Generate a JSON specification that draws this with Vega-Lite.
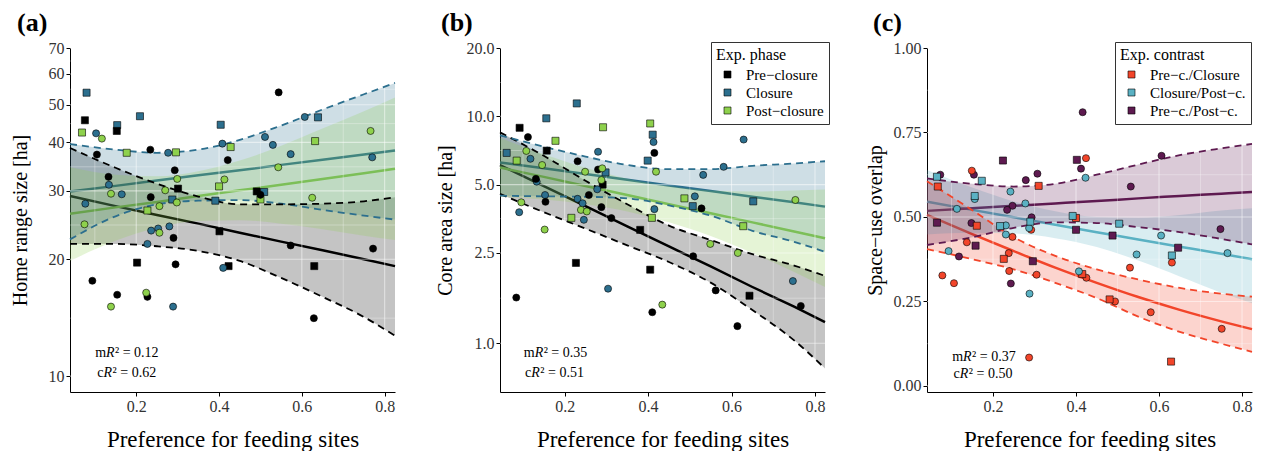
{
"$schema":"https://vega.github.io/schema/vega-lite/v6.json",
"padding":{"left":10,"top":10,"right":5,"bottom":0},
"spacing":35,
"config":{
 "font":"Liberation Serif",
 "view":{"stroke":null},
 "axis":{"domainColor":"#000","domainWidth":1,"tickColor":"#000","tickSize":4,"tickWidth":1,"labelFontSize":16,"labelColor":"#333","labelPadding":2,"titleFontWeight":"normal","titleColor":"#000","grid":false},
 "axisX":{"titlePadding":14,"titleFontSize":23},
 "axisY":{"titleFontSize":20,"minExtent":36,"maxExtent":36},
 "title":{"font":"Liberation Serif","fontSize":26,"fontWeight":"bold","anchor":"start","color":"#000","baseline":"alphabetic","offset":4},
 "legend":{"orient":"none","symbolType":"square","symbolSize":49,"symbolStrokeColor":"#000","symbolStrokeWidth":0.6,"strokeColor":"#333","fillColor":"#fff","padding":5,"titleFontSize":16,"titleFontWeight":"normal","titleColor":"#000","labelFontSize":15,"labelColor":"#000","rowPadding":2,"titlePadding":4,"labelOffset":11,"symbolOffset":4}
},
"datasets":{
"gx":[{"v":0.1,"k":"min"},{"v":0.2,"k":"maj"},{"v":0.3,"k":"min"},{"v":0.4,"k":"maj"},{"v":0.5,"k":"min"},{"v":0.6,"k":"maj"},{"v":0.7,"k":"min"},{"v":0.8,"k":"maj"}],
"gya":[{"v":10,"k":"maj"},{"v":14.1,"k":"min"},{"v":20,"k":"maj"},{"v":24.5,"k":"min"},{"v":30,"k":"maj"},{"v":34.6,"k":"min"},{"v":40,"k":"maj"},{"v":44.7,"k":"min"},{"v":50,"k":"maj"},{"v":54.8,"k":"min"},{"v":60,"k":"maj"},{"v":64.8,"k":"min"},{"v":70,"k":"maj"}],
"gyb":[{"v":1,"k":"maj"},{"v":1.58,"k":"min"},{"v":2.5,"k":"maj"},{"v":3.54,"k":"min"},{"v":5,"k":"maj"},{"v":7.07,"k":"min"},{"v":10,"k":"maj"},{"v":14.1,"k":"min"},{"v":20,"k":"maj"}],
"gyc":[{"v":0,"k":"maj"},{"v":0.125,"k":"min"},{"v":0.25,"k":"maj"},{"v":0.375,"k":"min"},{"v":0.5,"k":"maj"},{"v":0.625,"k":"min"},{"v":0.75,"k":"maj"},{"v":0.875,"k":"min"},{"v":1,"k":"maj"}],
"pa":[
{"x":0.080,"y":53.7,"g":"Closure","s":"square"},{"x":0.154,"y":44.3,"g":"Closure","s":"square"},{"x":0.209,"y":46.7,"g":"Closure","s":"square"},{"x":0.404,"y":44.4,"g":"Closure","s":"square"},{"x":0.287,"y":28.5,"g":"Closure","s":"square"},{"x":0.509,"y":29.8,"g":"Closure","s":"square"},{"x":0.391,"y":28.3,"g":"Closure","s":"square"},{"x":0.639,"y":46.4,"g":"Closure","s":"square"},
{"x":0.076,"y":45.6,"g":"Pre−closure","s":"square"},{"x":0.153,"y":42.8,"g":"Pre−closure","s":"square"},{"x":0.301,"y":30.4,"g":"Pre−closure","s":"square"},{"x":0.202,"y":19.6,"g":"Pre−closure","s":"square"},{"x":0.401,"y":23.6,"g":"Pre−closure","s":"square"},{"x":0.423,"y":19.2,"g":"Pre−closure","s":"square"},{"x":0.491,"y":29.9,"g":"Pre−closure","s":"square"},{"x":0.630,"y":19.2,"g":"Pre−closure","s":"square"},
{"x":0.069,"y":42.4,"g":"Post−closure","s":"square"},{"x":0.177,"y":37.6,"g":"Post−closure","s":"square"},{"x":0.296,"y":37.7,"g":"Post−closure","s":"square"},{"x":0.428,"y":38.9,"g":"Post−closure","s":"square"},{"x":0.227,"y":26.7,"g":"Post−closure","s":"square"},{"x":0.400,"y":30.8,"g":"Post−closure","s":"square"},{"x":0.500,"y":28.5,"g":"Post−closure","s":"square"},{"x":0.632,"y":40.3,"g":"Post−closure","s":"square"},
{"x":0.103,"y":42.2,"g":"Closure","s":"circle"},{"x":0.277,"y":37.6,"g":"Closure","s":"circle"},{"x":0.408,"y":39.7,"g":"Closure","s":"circle"},{"x":0.134,"y":31.1,"g":"Closure","s":"circle"},{"x":0.165,"y":29.4,"g":"Closure","s":"circle"},{"x":0.077,"y":27.8,"g":"Closure","s":"circle"},{"x":0.236,"y":23.7,"g":"Closure","s":"circle"},{"x":0.253,"y":24.0,"g":"Closure","s":"circle"},{"x":0.280,"y":24.3,"g":"Closure","s":"circle"},{"x":0.227,"y":21.9,"g":"Closure","s":"circle"},{"x":0.289,"y":15.1,"g":"Closure","s":"circle"},{"x":0.410,"y":19.0,"g":"Closure","s":"circle"},{"x":0.607,"y":46.5,"g":"Closure","s":"circle"},{"x":0.511,"y":41.3,"g":"Closure","s":"circle"},{"x":0.530,"y":39.4,"g":"Closure","s":"circle"},{"x":0.573,"y":37.3,"g":"Closure","s":"circle"},{"x":0.770,"y":36.6,"g":"Closure","s":"circle"},
{"x":0.234,"y":38.3,"g":"Pre−closure","s":"circle"},{"x":0.105,"y":37.2,"g":"Pre−closure","s":"circle"},{"x":0.421,"y":36.0,"g":"Pre−closure","s":"circle"},{"x":0.133,"y":32.6,"g":"Pre−closure","s":"circle"},{"x":0.293,"y":33.9,"g":"Pre−closure","s":"circle"},{"x":0.235,"y":28.9,"g":"Pre−closure","s":"circle"},{"x":0.290,"y":22.7,"g":"Pre−closure","s":"circle"},{"x":0.295,"y":19.4,"g":"Pre−closure","s":"circle"},{"x":0.094,"y":17.6,"g":"Pre−closure","s":"circle"},{"x":0.154,"y":16.2,"g":"Pre−closure","s":"circle"},{"x":0.227,"y":16.0,"g":"Pre−closure","s":"circle"},{"x":0.544,"y":53.8,"g":"Pre−closure","s":"circle"},{"x":0.573,"y":21.7,"g":"Pre−closure","s":"circle"},{"x":0.772,"y":21.3,"g":"Pre−closure","s":"circle"},{"x":0.629,"y":14.1,"g":"Pre−closure","s":"circle"},{"x":0.500,"y":29.3,"g":"Pre−closure","s":"circle"},
{"x":0.117,"y":40.9,"g":"Post−closure","s":"circle"},{"x":0.139,"y":29.5,"g":"Post−closure","s":"circle"},{"x":0.075,"y":24.6,"g":"Post−closure","s":"circle"},{"x":0.299,"y":32.2,"g":"Post−closure","s":"circle"},{"x":0.270,"y":30.1,"g":"Post−closure","s":"circle"},{"x":0.298,"y":28.0,"g":"Post−closure","s":"circle"},{"x":0.256,"y":27.4,"g":"Post−closure","s":"circle"},{"x":0.256,"y":23.4,"g":"Post−closure","s":"circle"},{"x":0.224,"y":16.4,"g":"Post−closure","s":"circle"},{"x":0.139,"y":15.1,"g":"Post−closure","s":"circle"},{"x":0.413,"y":32.1,"g":"Post−closure","s":"circle"},{"x":0.766,"y":42.8,"g":"Post−closure","s":"circle"},{"x":0.543,"y":34.5,"g":"Post−closure","s":"circle"},{"x":0.625,"y":28.8,"g":"Post−closure","s":"circle"}
],
"ba":[
{"x":0.04,"g":"Pre−closure","fit":29.1,"lo":21.9,"hi":38.7},{"x":0.15,"g":"Pre−closure","fit":27.4,"lo":21.9,"hi":34.4},{"x":0.25,"g":"Pre−closure","fit":26.0,"lo":21.6,"hi":31.3},{"x":0.35,"g":"Pre−closure","fit":24.7,"lo":21.0,"hi":29.0},{"x":0.45,"g":"Pre−closure","fit":23.4,"lo":19.8,"hi":27.7},{"x":0.55,"g":"Pre−closure","fit":22.2,"lo":17.9,"hi":27.7},{"x":0.65,"g":"Pre−closure","fit":21.1,"lo":16.0,"hi":27.8},{"x":0.75,"g":"Pre−closure","fit":20.0,"lo":14.2,"hi":28.2},{"x":0.825,"g":"Pre−closure","fit":19.2,"lo":12.7,"hi":28.9},
{"x":0.04,"g":"Closure","fit":29.9,"lo":22.5,"hi":39.6},{"x":0.15,"g":"Closure","fit":30.9,"lo":25.8,"hi":38.3},{"x":0.25,"g":"Closure","fit":31.9,"lo":27.7,"hi":37.6},{"x":0.35,"g":"Closure","fit":32.9,"lo":28.3,"hi":38.3},{"x":0.45,"g":"Closure","fit":33.9,"lo":28.4,"hi":40.6},{"x":0.55,"g":"Closure","fit":35.0,"lo":27.8,"hi":44.2},{"x":0.65,"g":"Closure","fit":36.1,"lo":26.8,"hi":48.6},{"x":0.75,"g":"Closure","fit":37.2,"lo":25.9,"hi":53.2},{"x":0.825,"g":"Closure","fit":38.1,"lo":25.3,"hi":56.9},
{"x":0.04,"g":"Post−closure","fit":26.2,"lo":19.8,"hi":34.5},{"x":0.15,"g":"Post−closure","fit":27.2,"lo":22.3,"hi":33.0},{"x":0.25,"g":"Post−closure","fit":28.1,"lo":24.1,"hi":32.7},{"x":0.35,"g":"Post−closure","fit":29.1,"lo":25.1,"hi":33.7},{"x":0.45,"g":"Post−closure","fit":30.1,"lo":25.2,"hi":35.9},{"x":0.55,"g":"Post−closure","fit":31.1,"lo":24.7,"hi":39.2},{"x":0.65,"g":"Post−closure","fit":32.2,"lo":23.9,"hi":43.4},{"x":0.75,"g":"Post−closure","fit":33.3,"lo":23.0,"hi":48.1},{"x":0.825,"g":"Post−closure","fit":34.2,"lo":22.4,"hi":52.2}
],
"pb":[
{"x":0.229,"y":11.4,"g":"Closure","s":"square"},{"x":0.156,"y":9.8,"g":"Closure","s":"square"},{"x":0.411,"y":8.3,"g":"Closure","s":"square"},{"x":0.061,"y":6.9,"g":"Closure","s":"square"},{"x":0.298,"y":5.66,"g":"Closure","s":"square"},{"x":0.507,"y":4.02,"g":"Closure","s":"square"},{"x":0.652,"y":4.22,"g":"Closure","s":"square"},{"x":0.399,"y":6.38,"g":"Closure","s":"square"},
{"x":0.092,"y":8.9,"g":"Pre−closure","s":"square"},{"x":0.157,"y":7.06,"g":"Pre−closure","s":"square"},{"x":0.291,"y":5.0,"g":"Pre−closure","s":"square"},{"x":0.381,"y":3.16,"g":"Pre−closure","s":"square"},{"x":0.227,"y":2.26,"g":"Pre−closure","s":"square"},{"x":0.405,"y":2.11,"g":"Pre−closure","s":"square"},{"x":0.643,"y":1.62,"g":"Pre−closure","s":"square"},
{"x":0.405,"y":9.3,"g":"Post−closure","s":"square"},{"x":0.292,"y":8.95,"g":"Post−closure","s":"square"},{"x":0.178,"y":7.8,"g":"Post−closure","s":"square"},{"x":0.085,"y":6.38,"g":"Post−closure","s":"square"},{"x":0.216,"y":3.57,"g":"Post−closure","s":"square"},{"x":0.409,"y":3.57,"g":"Post−closure","s":"square"},{"x":0.487,"y":4.35,"g":"Post−closure","s":"square"},{"x":0.628,"y":3.28,"g":"Post−closure","s":"square"},
{"x":0.413,"y":7.7,"g":"Closure","s":"circle"},{"x":0.118,"y":6.5,"g":"Closure","s":"circle"},{"x":0.280,"y":6.98,"g":"Closure","s":"circle"},{"x":0.133,"y":5.15,"g":"Closure","s":"circle"},{"x":0.278,"y":4.77,"g":"Closure","s":"circle"},{"x":0.153,"y":4.5,"g":"Closure","s":"circle"},{"x":0.231,"y":4.33,"g":"Closure","s":"circle"},{"x":0.243,"y":4.14,"g":"Closure","s":"circle"},{"x":0.091,"y":3.78,"g":"Closure","s":"circle"},{"x":0.246,"y":3.5,"g":"Closure","s":"circle"},{"x":0.415,"y":3.9,"g":"Closure","s":"circle"},{"x":0.304,"y":1.74,"g":"Closure","s":"circle"},{"x":0.629,"y":7.9,"g":"Closure","s":"circle"},{"x":0.581,"y":5.99,"g":"Closure","s":"circle"},{"x":0.532,"y":5.52,"g":"Closure","s":"circle"},{"x":0.512,"y":4.44,"g":"Closure","s":"circle"},{"x":0.747,"y":1.88,"g":"Closure","s":"circle"},
{"x":0.112,"y":8.1,"g":"Pre−closure","s":"circle"},{"x":0.415,"y":6.9,"g":"Pre−closure","s":"circle"},{"x":0.231,"y":6.34,"g":"Pre−closure","s":"circle"},{"x":0.280,"y":5.83,"g":"Pre−closure","s":"circle"},{"x":0.131,"y":5.3,"g":"Pre−closure","s":"circle"},{"x":0.258,"y":4.5,"g":"Pre−closure","s":"circle"},{"x":0.154,"y":4.2,"g":"Pre−closure","s":"circle"},{"x":0.288,"y":3.98,"g":"Pre−closure","s":"circle"},{"x":0.312,"y":3.56,"g":"Pre−closure","s":"circle"},{"x":0.084,"y":1.59,"g":"Pre−closure","s":"circle"},{"x":0.410,"y":1.37,"g":"Pre−closure","s":"circle"},{"x":0.528,"y":3.93,"g":"Pre−closure","s":"circle"},{"x":0.508,"y":2.42,"g":"Pre−closure","s":"circle"},{"x":0.562,"y":1.71,"g":"Pre−closure","s":"circle"},{"x":0.766,"y":1.46,"g":"Pre−closure","s":"circle"},{"x":0.614,"y":1.19,"g":"Pre−closure","s":"circle"},
{"x":0.108,"y":7.04,"g":"Post−closure","s":"circle"},{"x":0.146,"y":6.1,"g":"Post−closure","s":"circle"},{"x":0.290,"y":5.9,"g":"Post−closure","s":"circle"},{"x":0.249,"y":5.7,"g":"Post−closure","s":"circle"},{"x":0.288,"y":5.24,"g":"Post−closure","s":"circle"},{"x":0.096,"y":4.18,"g":"Post−closure","s":"circle"},{"x":0.239,"y":3.87,"g":"Post−closure","s":"circle"},{"x":0.253,"y":3.81,"g":"Post−closure","s":"circle"},{"x":0.152,"y":3.17,"g":"Post−closure","s":"circle"},{"x":0.434,"y":1.48,"g":"Post−closure","s":"circle"},{"x":0.419,"y":5.7,"g":"Post−closure","s":"circle"},{"x":0.753,"y":4.28,"g":"Post−closure","s":"circle"},{"x":0.549,"y":2.74,"g":"Post−closure","s":"circle"},{"x":0.615,"y":2.5,"g":"Post−closure","s":"circle"}
],
"bb":[
{"x":0.045,"g":"Pre−closure","fit":6.1,"lo":4.55,"hi":8.5},{"x":0.15,"g":"Pre−closure","fit":4.93,"lo":3.78,"hi":6.7},{"x":0.25,"g":"Pre−closure","fit":4.02,"lo":3.2,"hi":5.2},{"x":0.35,"g":"Pre−closure","fit":3.27,"lo":2.7,"hi":4.1},{"x":0.45,"g":"Pre−closure","fit":2.67,"lo":2.28,"hi":3.3},{"x":0.55,"g":"Pre−closure","fit":2.18,"lo":1.85,"hi":2.85},{"x":0.65,"g":"Pre−closure","fit":1.77,"lo":1.4,"hi":2.47},{"x":0.75,"g":"Pre−closure","fit":1.45,"lo":1.03,"hi":2.2},{"x":0.824,"g":"Pre−closure","fit":1.24,"lo":0.775,"hi":1.98},
{"x":0.045,"g":"Closure","fit":6.26,"lo":4.47,"hi":8.25},{"x":0.15,"g":"Closure","fit":5.9,"lo":4.44,"hi":7.35},{"x":0.25,"g":"Closure","fit":5.57,"lo":4.42,"hi":6.65},{"x":0.35,"g":"Closure","fit":5.26,"lo":4.35,"hi":6.1},{"x":0.45,"g":"Closure","fit":4.96,"lo":4.05,"hi":5.85},{"x":0.55,"g":"Closure","fit":4.69,"lo":3.65,"hi":5.85},{"x":0.65,"g":"Closure","fit":4.42,"lo":3.13,"hi":6.05},{"x":0.75,"g":"Closure","fit":4.18,"lo":2.8,"hi":6.2},{"x":0.824,"g":"Closure","fit":4.0,"lo":2.53,"hi":6.34},
{"x":0.045,"g":"Post−closure","fit":5.95,"lo":4.42,"hi":8.04},{"x":0.15,"g":"Post−closure","fit":5.41,"lo":4.3,"hi":6.81},{"x":0.25,"g":"Post−closure","fit":4.93,"lo":4.1,"hi":5.93},{"x":0.35,"g":"Post−closure","fit":4.5,"lo":3.81,"hi":5.31},{"x":0.45,"g":"Post−closure","fit":4.1,"lo":3.41,"hi":4.93},{"x":0.55,"g":"Post−closure","fit":3.74,"lo":2.97,"hi":4.71},{"x":0.65,"g":"Post−closure","fit":3.41,"lo":2.5,"hi":4.66},{"x":0.75,"g":"Post−closure","fit":3.11,"lo":2.06,"hi":4.71},{"x":0.824,"g":"Post−closure","fit":2.9,"lo":1.77,"hi":4.76}
],
"pc":[
{"x":0.416,"y":0.81,"g":"Pre−c./Post−c.","s":"circle"},{"x":0.412,"y":0.643,"g":"Pre−c./Post−c.","s":"circle"},{"x":0.154,"y":0.625,"g":"Pre−c./Post−c.","s":"circle"},{"x":0.073,"y":0.625,"g":"Pre−c./Post−c.","s":"circle"},{"x":0.279,"y":0.609,"g":"Pre−c./Post−c.","s":"circle"},{"x":0.307,"y":0.628,"g":"Pre−c./Post−c.","s":"circle"},{"x":0.247,"y":0.533,"g":"Pre−c./Post−c.","s":"circle"},{"x":0.234,"y":0.521,"g":"Pre−c./Post−c.","s":"circle"},{"x":0.293,"y":0.499,"g":"Pre−c./Post−c.","s":"circle"},{"x":0.148,"y":0.482,"g":"Pre−c./Post−c.","s":"circle"},{"x":0.118,"y":0.383,"g":"Pre−c./Post−c.","s":"circle"},{"x":0.243,"y":0.303,"g":"Pre−c./Post−c.","s":"circle"},{"x":0.606,"y":0.681,"g":"Pre−c./Post−c.","s":"circle"},{"x":0.532,"y":0.59,"g":"Pre−c./Post−c.","s":"circle"},{"x":0.748,"y":0.464,"g":"Pre−c./Post−c.","s":"circle"},
{"x":0.224,"y":0.667,"g":"Pre−c./Post−c.","s":"square"},{"x":0.402,"y":0.669,"g":"Pre−c./Post−c.","s":"square"},{"x":0.065,"y":0.483,"g":"Pre−c./Post−c.","s":"square"},{"x":0.400,"y":0.462,"g":"Pre−c./Post−c.","s":"square"},{"x":0.158,"y":0.415,"g":"Pre−c./Post−c.","s":"square"},{"x":0.296,"y":0.369,"g":"Pre−c./Post−c.","s":"square"},{"x":0.488,"y":0.445,"g":"Pre−c./Post−c.","s":"square"},{"x":0.646,"y":0.409,"g":"Pre−c./Post−c.","s":"square"},
{"x":0.424,"y":0.674,"g":"Pre−c./Closure","s":"circle"},{"x":0.149,"y":0.637,"g":"Pre−c./Closure","s":"circle"},{"x":0.292,"y":0.462,"g":"Pre−c./Closure","s":"circle"},{"x":0.247,"y":0.441,"g":"Pre−c./Closure","s":"circle"},{"x":0.137,"y":0.425,"g":"Pre−c./Closure","s":"circle"},{"x":0.238,"y":0.393,"g":"Pre−c./Closure","s":"circle"},{"x":0.425,"y":0.32,"g":"Pre−c./Closure","s":"circle"},{"x":0.239,"y":0.34,"g":"Pre−c./Closure","s":"circle"},{"x":0.305,"y":0.329,"g":"Pre−c./Closure","s":"circle"},{"x":0.078,"y":0.327,"g":"Pre−c./Closure","s":"circle"},{"x":0.106,"y":0.304,"g":"Pre−c./Closure","s":"circle"},{"x":0.287,"y":0.084,"g":"Pre−c./Closure","s":"circle"},{"x":0.53,"y":0.35,"g":"Pre−c./Closure","s":"circle"},{"x":0.631,"y":0.365,"g":"Pre−c./Closure","s":"circle"},{"x":0.494,"y":0.25,"g":"Pre−c./Closure","s":"circle"},{"x":0.58,"y":0.218,"g":"Pre−c./Closure","s":"circle"},{"x":0.751,"y":0.169,"g":"Pre−c./Closure","s":"circle"},
{"x":0.067,"y":0.59,"g":"Pre−c./Closure","s":"square"},{"x":0.31,"y":0.592,"g":"Pre−c./Closure","s":"square"},{"x":0.4,"y":0.497,"g":"Pre−c./Closure","s":"square"},{"x":0.161,"y":0.474,"g":"Pre−c./Closure","s":"square"},{"x":0.226,"y":0.376,"g":"Pre−c./Closure","s":"square"},{"x":0.415,"y":0.331,"g":"Pre−c./Closure","s":"square"},{"x":0.481,"y":0.256,"g":"Pre−c./Closure","s":"square"},{"x":0.629,"y":0.072,"g":"Pre−c./Closure","s":"square"},
{"x":0.423,"y":0.616,"g":"Closure/Post−c.","s":"circle"},{"x":0.242,"y":0.575,"g":"Closure/Post−c.","s":"circle"},{"x":0.156,"y":0.553,"g":"Closure/Post−c.","s":"circle"},{"x":0.278,"y":0.54,"g":"Closure/Post−c.","s":"circle"},{"x":0.113,"y":0.524,"g":"Closure/Post−c.","s":"circle"},{"x":0.231,"y":0.475,"g":"Closure/Post−c.","s":"circle"},{"x":0.287,"y":0.467,"g":"Closure/Post−c.","s":"circle"},{"x":0.231,"y":0.448,"g":"Closure/Post−c.","s":"circle"},{"x":0.093,"y":0.399,"g":"Closure/Post−c.","s":"circle"},{"x":0.407,"y":0.339,"g":"Closure/Post−c.","s":"circle"},{"x":0.288,"y":0.273,"g":"Closure/Post−c.","s":"circle"},{"x":0.605,"y":0.445,"g":"Closure/Post−c.","s":"circle"},{"x":0.546,"y":0.389,"g":"Closure/Post−c.","s":"circle"},{"x":0.765,"y":0.393,"g":"Closure/Post−c.","s":"circle"},
{"x":0.065,"y":0.619,"g":"Closure/Post−c.","s":"square"},{"x":0.173,"y":0.607,"g":"Closure/Post−c.","s":"square"},{"x":0.156,"y":0.562,"g":"Closure/Post−c.","s":"square"},{"x":0.392,"y":0.503,"g":"Closure/Post−c.","s":"square"},{"x":0.29,"y":0.486,"g":"Closure/Post−c.","s":"square"},{"x":0.217,"y":0.473,"g":"Closure/Post−c.","s":"square"},{"x":0.504,"y":0.48,"g":"Closure/Post−c.","s":"square"},{"x":0.631,"y":0.386,"g":"Closure/Post−c.","s":"square"}
],
"bc":[
{"x":0.041,"g":"Pre−c./Closure","fit":0.506,"lo":0.405,"hi":0.606},{"x":0.15,"g":"Pre−c./Closure","fit":0.449,"lo":0.375,"hi":0.52},{"x":0.25,"g":"Pre−c./Closure","fit":0.399,"lo":0.345,"hi":0.44},{"x":0.35,"g":"Pre−c./Closure","fit":0.35,"lo":0.305,"hi":0.385},{"x":0.45,"g":"Pre−c./Closure","fit":0.305,"lo":0.26,"hi":0.345},{"x":0.55,"g":"Pre−c./Closure","fit":0.263,"lo":0.205,"hi":0.315},{"x":0.65,"g":"Pre−c./Closure","fit":0.225,"lo":0.16,"hi":0.29},{"x":0.75,"g":"Pre−c./Closure","fit":0.191,"lo":0.125,"hi":0.273},{"x":0.824,"g":"Pre−c./Closure","fit":0.168,"lo":0.101,"hi":0.264},
{"x":0.041,"g":"Closure/Post−c.","fit":0.545,"lo":0.448,"hi":0.639},{"x":0.15,"g":"Closure/Post−c.","fit":0.521,"lo":0.453,"hi":0.587},{"x":0.25,"g":"Closure/Post−c.","fit":0.499,"lo":0.451,"hi":0.546},{"x":0.35,"g":"Closure/Post−c.","fit":0.477,"lo":0.437,"hi":0.517},{"x":0.45,"g":"Closure/Post−c.","fit":0.455,"lo":0.411,"hi":0.5},{"x":0.55,"g":"Closure/Post−c.","fit":0.433,"lo":0.371,"hi":0.498},{"x":0.65,"g":"Closure/Post−c.","fit":0.412,"lo":0.324,"hi":0.506},{"x":0.75,"g":"Closure/Post−c.","fit":0.391,"lo":0.276,"hi":0.519},{"x":0.824,"g":"Closure/Post−c.","fit":0.375,"lo":0.245,"hi":0.526},
{"x":0.041,"g":"Pre−c./Post−c.","fit":0.518,"lo":0.417,"hi":0.614},{"x":0.15,"g":"Pre−c./Post−c.","fit":0.526,"lo":0.44,"hi":0.598},{"x":0.25,"g":"Pre−c./Post−c.","fit":0.533,"lo":0.468,"hi":0.59},{"x":0.35,"g":"Pre−c./Post−c.","fit":0.54,"lo":0.484,"hi":0.598},{"x":0.45,"g":"Pre−c./Post−c.","fit":0.547,"lo":0.482,"hi":0.625},{"x":0.55,"g":"Pre−c./Post−c.","fit":0.555,"lo":0.47,"hi":0.655},{"x":0.65,"g":"Pre−c./Post−c.","fit":0.562,"lo":0.455,"hi":0.683},{"x":0.75,"g":"Pre−c./Post−c.","fit":0.569,"lo":0.435,"hi":0.703},{"x":0.824,"g":"Pre−c./Post−c.","fit":0.574,"lo":0.419,"hi":0.716}
],
"ann":[
{"p":"a","x":0.127,"y":11.5,"m":"m","v":"² = 0.12"},{"p":"a","x":0.121,"y":10.2,"m":"c","v":"² = 0.62"},
{"p":"b","x":0.128,"y":0.907,"m":"m","v":"² = 0.35"},{"p":"b","x":0.120,"y":0.737,"m":"c","v":"² = 0.51"},
{"p":"c","x":0.128,"y":0.085,"m":"m","v":"² = 0.37"},{"p":"c","x":0.120,"y":0.035,"m":"c","v":"² = 0.50"}
]
},
"hconcat":[
{
"width":325,"height":344,
"title":{"text":"(a)","dx":7},
"layer":[
{"data":{"name":"ba"},"mark":{"type":"line","strokeWidth":2.5},
 "encoding":{"x":{"field":"x","type":"quantitative","scale":{"domain":[0.04,0.825],"nice":false,"zero":false},"axis":{"values":[0.2,0.4,0.6,0.8],"format":".1f"},"title":"Preference for feeding sites"},
  "y":{"field":"fit","type":"quantitative","scale":{"type":"log","domain":[9.1,70],"nice":false},"axis":{"values":[10,20,30,40,50,60,70],"format":"d","titlePadding":4},"title":"Home range size [ha]"},
  "stroke":{"field":"g","type":"nominal","scale":{"domain":["Closure","Post−closure","Pre−closure"],"range":["#2c6f8e","#8ed14c","#000000"]},"legend":null}}},
{"data":{"name":"ba"},"mark":{"type":"area","fillOpacity":0.23,"interpolate":"monotone"},
 "encoding":{"x":{"field":"x","type":"quantitative","scale":{"domain":[0.04,0.825],"nice":false,"zero":false},"axis":{"values":[0.2,0.4,0.6,0.8],"format":".1f"},"title":"Preference for feeding sites"},
  "y":{"field":"lo","type":"quantitative","scale":{"type":"log","domain":[9.1,70],"nice":false},"axis":{"values":[10,20,30,40,50,60,70],"format":"d","titlePadding":4},"title":"Home range size [ha]"},
  "y2":{"field":"hi"},
  "color":{"field":"g","type":"nominal","scale":{"domain":["Closure","Post−closure","Pre−closure"],"range":["#2c6f8e","#8ed14c","#000000"]},"legend":null}}},
{"data":{"name":"gx"},"mark":{"type":"rule","color":"#fff","opacity":0.5},
 "encoding":{"x":{"field":"v","type":"quantitative","scale":{"domain":[0.04,0.825],"nice":false,"zero":false},"axis":{"values":[0.2,0.4,0.6,0.8],"format":".1f"},"title":"Preference for feeding sites"},
  "strokeWidth":{"field":"k","type":"nominal","scale":{"domain":["maj","min"],"range":[1.1,0.6]},"legend":null}}},
{"data":{"name":"gya"},"mark":{"type":"rule","color":"#fff","opacity":0.5},
 "encoding":{"y":{"field":"v","type":"quantitative","scale":{"type":"log","domain":[9.1,70],"nice":false},"axis":{"values":[10,20,30,40,50,60,70],"format":"d","titlePadding":4},"title":"Home range size [ha]"},
  "strokeWidth":{"field":"k","type":"nominal","scale":{"domain":["maj","min"],"range":[1.1,0.6]},"legend":null}}},
{"data":{"name":"ba"},"transform":[{"filter":"datum.g != 'Post−closure'"}],"mark":{"type":"line","strokeWidth":1.8,"strokeDash":[7,5],"interpolate":"monotone"},
 "encoding":{"x":{"field":"x","type":"quantitative","scale":{"domain":[0.04,0.825],"nice":false,"zero":false},"axis":{"values":[0.2,0.4,0.6,0.8],"format":".1f"},"title":"Preference for feeding sites"},
  "y":{"field":"lo","type":"quantitative","scale":{"type":"log","domain":[9.1,70],"nice":false},"axis":{"values":[10,20,30,40,50,60,70],"format":"d","titlePadding":4},"title":"Home range size [ha]"},
  "stroke":{"field":"g","type":"nominal","scale":{"domain":["Closure","Post−closure","Pre−closure"],"range":["#2c6f8e","#8ed14c","#000000"]},"legend":null}}},
{"data":{"name":"ba"},"transform":[{"filter":"datum.g != 'Post−closure'"}],"mark":{"type":"line","strokeWidth":1.8,"strokeDash":[7,5],"interpolate":"monotone"},
 "encoding":{"x":{"field":"x","type":"quantitative","scale":{"domain":[0.04,0.825],"nice":false,"zero":false},"axis":{"values":[0.2,0.4,0.6,0.8],"format":".1f"},"title":"Preference for feeding sites"},
  "y":{"field":"hi","type":"quantitative","scale":{"type":"log","domain":[9.1,70],"nice":false},"axis":{"values":[10,20,30,40,50,60,70],"format":"d","titlePadding":4},"title":"Home range size [ha]"},
  "stroke":{"field":"g","type":"nominal","scale":{"domain":["Closure","Post−closure","Pre−closure"],"range":["#2c6f8e","#8ed14c","#000000"]},"legend":null}}},
{"data":{"name":"pa"},"mark":{"type":"point","filled":true,"opacity":1,"stroke":"#000","strokeWidth":0.6,"size":50},
 "encoding":{"x":{"field":"x","type":"quantitative","scale":{"domain":[0.04,0.825],"nice":false,"zero":false},"axis":{"values":[0.2,0.4,0.6,0.8],"format":".1f"},"title":"Preference for feeding sites"},
  "y":{"field":"y","type":"quantitative","scale":{"type":"log","domain":[9.1,70],"nice":false},"axis":{"values":[10,20,30,40,50,60,70],"format":"d","titlePadding":4},"title":"Home range size [ha]"},
  "fill":{"field":"g","type":"nominal","scale":{"domain":["Pre−closure","Closure","Post−closure"],"range":["#000000","#2c6f8e","#8ed14c"]},"legend":null},
  "shape":{"field":"s","type":"nominal","scale":{"domain":["circle","square"],"range":["circle","square"]},"legend":null}}},
{"data":{"name":"ann"},"transform":[{"filter":"datum.p == 'a'"}],"mark":{"type":"text","fontSize":14,"align":"right","baseline":"middle","color":"#000"},
 "encoding":{"x":{"field":"x","type":"quantitative","scale":{"domain":[0.04,0.825],"nice":false,"zero":false},"axis":{"values":[0.2,0.4,0.6,0.8],"format":".1f"},"title":"Preference for feeding sites"},
  "y":{"field":"y","type":"quantitative","scale":{"type":"log","domain":[9.1,70],"nice":false},"axis":{"values":[10,20,30,40,50,60,70],"format":"d","titlePadding":4},"title":"Home range size [ha]"},
  "text":{"field":"m"}}},
{"data":{"name":"ann"},"transform":[{"filter":"datum.p == 'a'"}],"mark":{"type":"text","fontSize":14,"fontStyle":"italic","align":"left","baseline":"middle","color":"#000","text":"R"},
 "encoding":{"x":{"field":"x","type":"quantitative","scale":{"domain":[0.04,0.825],"nice":false,"zero":false},"axis":{"values":[0.2,0.4,0.6,0.8],"format":".1f"},"title":"Preference for feeding sites"},
  "y":{"field":"y","type":"quantitative","scale":{"type":"log","domain":[9.1,70],"nice":false},"axis":{"values":[10,20,30,40,50,60,70],"format":"d","titlePadding":4},"title":"Home range size [ha]"}}},
{"data":{"name":"ann"},"transform":[{"filter":"datum.p == 'a'"}],"mark":{"type":"text","fontSize":14,"align":"left","baseline":"middle","dx":9,"color":"#000"},
 "encoding":{"x":{"field":"x","type":"quantitative","scale":{"domain":[0.04,0.825],"nice":false,"zero":false},"axis":{"values":[0.2,0.4,0.6,0.8],"format":".1f"},"title":"Preference for feeding sites"},
  "y":{"field":"y","type":"quantitative","scale":{"type":"log","domain":[9.1,70],"nice":false},"axis":{"values":[10,20,30,40,50,60,70],"format":"d","titlePadding":4},"title":"Home range size [ha]"},
  "text":{"field":"v"}}}
]
},
{
"width":325,"height":344,
"title":{"text":"(b)","dx":6},
"layer":[
{"data":{"name":"bb"},"mark":{"type":"line","strokeWidth":2.5},
 "encoding":{"x":{"field":"x","type":"quantitative","scale":{"domain":[0.045,0.824],"nice":false,"zero":false},"axis":{"values":[0.2,0.4,0.6,0.8],"format":".1f"},"title":"Preference for feeding sites"},
  "y":{"field":"fit","type":"quantitative","scale":{"type":"log","domain":[0.61,20],"nice":false},"axis":{"values":[1,2.5,5,10,20],"format":".1f","titlePadding":9},"title":"Core area size [ha]"},
  "stroke":{"field":"g","type":"nominal","scale":{"domain":["Closure","Post−closure","Pre−closure"],"range":["#2c6f8e","#8ed14c","#000000"]},"legend":null}}},
{"data":{"name":"bb"},"mark":{"type":"area","fillOpacity":0.23,"interpolate":"monotone"},
 "encoding":{"x":{"field":"x","type":"quantitative","scale":{"domain":[0.045,0.824],"nice":false,"zero":false},"axis":{"values":[0.2,0.4,0.6,0.8],"format":".1f"},"title":"Preference for feeding sites"},
  "y":{"field":"lo","type":"quantitative","scale":{"type":"log","domain":[0.61,20],"nice":false},"axis":{"values":[1,2.5,5,10,20],"format":".1f","titlePadding":9},"title":"Core area size [ha]"},
  "y2":{"field":"hi"},
  "color":{"field":"g","type":"nominal","scale":{"domain":["Closure","Post−closure","Pre−closure"],"range":["#2c6f8e","#8ed14c","#000000"]},"legend":null}}},
{"data":{"name":"gx"},"mark":{"type":"rule","color":"#fff","opacity":0.5},
 "encoding":{"x":{"field":"v","type":"quantitative","scale":{"domain":[0.045,0.824],"nice":false,"zero":false},"axis":{"values":[0.2,0.4,0.6,0.8],"format":".1f"},"title":"Preference for feeding sites"},
  "strokeWidth":{"field":"k","type":"nominal","scale":{"domain":["maj","min"],"range":[1.1,0.6]},"legend":null}}},
{"data":{"name":"gyb"},"mark":{"type":"rule","color":"#fff","opacity":0.5},
 "encoding":{"y":{"field":"v","type":"quantitative","scale":{"type":"log","domain":[0.61,20],"nice":false},"axis":{"values":[1,2.5,5,10,20],"format":".1f","titlePadding":9},"title":"Core area size [ha]"},
  "strokeWidth":{"field":"k","type":"nominal","scale":{"domain":["maj","min"],"range":[1.1,0.6]},"legend":null}}},
{"data":{"name":"bb"},"transform":[{"filter":"datum.g != 'Post−closure'"}],"mark":{"type":"line","strokeWidth":1.8,"strokeDash":[7,5],"interpolate":"monotone"},
 "encoding":{"x":{"field":"x","type":"quantitative","scale":{"domain":[0.045,0.824],"nice":false,"zero":false},"axis":{"values":[0.2,0.4,0.6,0.8],"format":".1f"},"title":"Preference for feeding sites"},
  "y":{"field":"lo","type":"quantitative","scale":{"type":"log","domain":[0.61,20],"nice":false},"axis":{"values":[1,2.5,5,10,20],"format":".1f","titlePadding":9},"title":"Core area size [ha]"},
  "stroke":{"field":"g","type":"nominal","scale":{"domain":["Closure","Post−closure","Pre−closure"],"range":["#2c6f8e","#8ed14c","#000000"]},"legend":null}}},
{"data":{"name":"bb"},"transform":[{"filter":"datum.g != 'Post−closure'"}],"mark":{"type":"line","strokeWidth":1.8,"strokeDash":[7,5],"interpolate":"monotone"},
 "encoding":{"x":{"field":"x","type":"quantitative","scale":{"domain":[0.045,0.824],"nice":false,"zero":false},"axis":{"values":[0.2,0.4,0.6,0.8],"format":".1f"},"title":"Preference for feeding sites"},
  "y":{"field":"hi","type":"quantitative","scale":{"type":"log","domain":[0.61,20],"nice":false},"axis":{"values":[1,2.5,5,10,20],"format":".1f","titlePadding":9},"title":"Core area size [ha]"},
  "stroke":{"field":"g","type":"nominal","scale":{"domain":["Closure","Post−closure","Pre−closure"],"range":["#2c6f8e","#8ed14c","#000000"]},"legend":null}}},
{"data":{"name":"pb"},"mark":{"type":"point","filled":true,"opacity":1,"stroke":"#000","strokeWidth":0.6,"size":50},
 "encoding":{"x":{"field":"x","type":"quantitative","scale":{"domain":[0.045,0.824],"nice":false,"zero":false},"axis":{"values":[0.2,0.4,0.6,0.8],"format":".1f"},"title":"Preference for feeding sites"},
  "y":{"field":"y","type":"quantitative","scale":{"type":"log","domain":[0.61,20],"nice":false},"axis":{"values":[1,2.5,5,10,20],"format":".1f","titlePadding":9},"title":"Core area size [ha]"},
  "fill":{"field":"g","type":"nominal","scale":{"domain":["Pre−closure","Closure","Post−closure"],"range":["#000000","#2c6f8e","#8ed14c"]},"legend":{"title":"Exp. phase","legendX":211,"legendY":-6}},
  "shape":{"field":"s","type":"nominal","scale":{"domain":["circle","square"],"range":["circle","square"]},"legend":null}}},
{"data":{"name":"ann"},"transform":[{"filter":"datum.p == 'b'"}],"mark":{"type":"text","fontSize":14,"align":"right","baseline":"middle","color":"#000"},
 "encoding":{"x":{"field":"x","type":"quantitative","scale":{"domain":[0.045,0.824],"nice":false,"zero":false},"axis":{"values":[0.2,0.4,0.6,0.8],"format":".1f"},"title":"Preference for feeding sites"},
  "y":{"field":"y","type":"quantitative","scale":{"type":"log","domain":[0.61,20],"nice":false},"axis":{"values":[1,2.5,5,10,20],"format":".1f","titlePadding":9},"title":"Core area size [ha]"},
  "text":{"field":"m"}}},
{"data":{"name":"ann"},"transform":[{"filter":"datum.p == 'b'"}],"mark":{"type":"text","fontSize":14,"fontStyle":"italic","align":"left","baseline":"middle","color":"#000","text":"R"},
 "encoding":{"x":{"field":"x","type":"quantitative","scale":{"domain":[0.045,0.824],"nice":false,"zero":false},"axis":{"values":[0.2,0.4,0.6,0.8],"format":".1f"},"title":"Preference for feeding sites"},
  "y":{"field":"y","type":"quantitative","scale":{"type":"log","domain":[0.61,20],"nice":false},"axis":{"values":[1,2.5,5,10,20],"format":".1f","titlePadding":9},"title":"Core area size [ha]"}}},
{"data":{"name":"ann"},"transform":[{"filter":"datum.p == 'b'"}],"mark":{"type":"text","fontSize":14,"align":"left","baseline":"middle","dx":9,"color":"#000"},
 "encoding":{"x":{"field":"x","type":"quantitative","scale":{"domain":[0.045,0.824],"nice":false,"zero":false},"axis":{"values":[0.2,0.4,0.6,0.8],"format":".1f"},"title":"Preference for feeding sites"},
  "y":{"field":"y","type":"quantitative","scale":{"type":"log","domain":[0.61,20],"nice":false},"axis":{"values":[1,2.5,5,10,20],"format":".1f","titlePadding":9},"title":"Core area size [ha]"},
  "text":{"field":"v"}}}
]
},
{
"width":325,"height":344,
"title":{"text":"(c)","dx":8},
"layer":[
{"data":{"name":"bc"},"mark":{"type":"line","strokeWidth":2.5,"interpolate":"monotone"},
 "encoding":{"x":{"field":"x","type":"quantitative","scale":{"domain":[0.041,0.824],"nice":false,"zero":false},"axis":{"values":[0.2,0.4,0.6,0.8],"format":".1f"},"title":"Preference for feeding sites"},
  "y":{"field":"fit","type":"quantitative","scale":{"domain":[-0.018,1.0],"nice":false,"zero":false},"axis":{"values":[0,0.25,0.5,0.75,1],"format":".2f","titlePadding":6},"title":"Space−use overlap"},
  "stroke":{"field":"g","type":"nominal","scale":{"domain":["Closure/Post−c.","Pre−c./Post−c.","Pre−c./Closure"],"range":["#5ab1c3","#5e1a50","#f2452a"]},"legend":null}}},
{"data":{"name":"bc"},"mark":{"type":"area","fillOpacity":0.23,"interpolate":"monotone"},
 "encoding":{"x":{"field":"x","type":"quantitative","scale":{"domain":[0.041,0.824],"nice":false,"zero":false},"axis":{"values":[0.2,0.4,0.6,0.8],"format":".1f"},"title":"Preference for feeding sites"},
  "y":{"field":"lo","type":"quantitative","scale":{"domain":[-0.018,1.0],"nice":false,"zero":false},"axis":{"values":[0,0.25,0.5,0.75,1],"format":".2f","titlePadding":6},"title":"Space−use overlap"},
  "y2":{"field":"hi"},
  "color":{"field":"g","type":"nominal","scale":{"domain":["Closure/Post−c.","Pre−c./Post−c.","Pre−c./Closure"],"range":["#5ab1c3","#5e1a50","#f2452a"]},"legend":null}}},
{"data":{"name":"gx"},"mark":{"type":"rule","color":"#fff","opacity":0.5},
 "encoding":{"x":{"field":"v","type":"quantitative","scale":{"domain":[0.041,0.824],"nice":false,"zero":false},"axis":{"values":[0.2,0.4,0.6,0.8],"format":".1f"},"title":"Preference for feeding sites"},
  "strokeWidth":{"field":"k","type":"nominal","scale":{"domain":["maj","min"],"range":[1.1,0.6]},"legend":null}}},
{"data":{"name":"gyc"},"mark":{"type":"rule","color":"#fff","opacity":0.5},
 "encoding":{"y":{"field":"v","type":"quantitative","scale":{"domain":[-0.018,1.0],"nice":false,"zero":false},"axis":{"values":[0,0.25,0.5,0.75,1],"format":".2f","titlePadding":6},"title":"Space−use overlap"},
  "strokeWidth":{"field":"k","type":"nominal","scale":{"domain":["maj","min"],"range":[1.1,0.6]},"legend":null}}},
{"data":{"name":"bc"},"transform":[{"filter":"datum.g != 'Closure/Post−c.'"}],"mark":{"type":"line","strokeWidth":1.8,"strokeDash":[7,5],"interpolate":"monotone"},
 "encoding":{"x":{"field":"x","type":"quantitative","scale":{"domain":[0.041,0.824],"nice":false,"zero":false},"axis":{"values":[0.2,0.4,0.6,0.8],"format":".1f"},"title":"Preference for feeding sites"},
  "y":{"field":"lo","type":"quantitative","scale":{"domain":[-0.018,1.0],"nice":false,"zero":false},"axis":{"values":[0,0.25,0.5,0.75,1],"format":".2f","titlePadding":6},"title":"Space−use overlap"},
  "stroke":{"field":"g","type":"nominal","scale":{"domain":["Closure/Post−c.","Pre−c./Post−c.","Pre−c./Closure"],"range":["#5ab1c3","#5e1a50","#f2452a"]},"legend":null}}},
{"data":{"name":"bc"},"transform":[{"filter":"datum.g != 'Closure/Post−c.'"}],"mark":{"type":"line","strokeWidth":1.8,"strokeDash":[7,5],"interpolate":"monotone"},
 "encoding":{"x":{"field":"x","type":"quantitative","scale":{"domain":[0.041,0.824],"nice":false,"zero":false},"axis":{"values":[0.2,0.4,0.6,0.8],"format":".1f"},"title":"Preference for feeding sites"},
  "y":{"field":"hi","type":"quantitative","scale":{"domain":[-0.018,1.0],"nice":false,"zero":false},"axis":{"values":[0,0.25,0.5,0.75,1],"format":".2f","titlePadding":6},"title":"Space−use overlap"},
  "stroke":{"field":"g","type":"nominal","scale":{"domain":["Closure/Post−c.","Pre−c./Post−c.","Pre−c./Closure"],"range":["#5ab1c3","#5e1a50","#f2452a"]},"legend":null}}},
{"data":{"name":"pc"},"mark":{"type":"point","filled":true,"opacity":1,"stroke":"#000","strokeWidth":0.6,"size":50},
 "encoding":{"x":{"field":"x","type":"quantitative","scale":{"domain":[0.041,0.824],"nice":false,"zero":false},"axis":{"values":[0.2,0.4,0.6,0.8],"format":".1f"},"title":"Preference for feeding sites"},
  "y":{"field":"y","type":"quantitative","scale":{"domain":[-0.018,1.0],"nice":false,"zero":false},"axis":{"values":[0,0.25,0.5,0.75,1],"format":".2f","titlePadding":6},"title":"Space−use overlap"},
  "fill":{"field":"g","type":"nominal","scale":{"domain":["Pre−c./Closure","Closure/Post−c.","Pre−c./Post−c."],"range":["#f2452a","#5ab1c3","#5e1a50"]},"legend":{"title":"Exp. contrast","legendX":188,"legendY":-6}},
  "shape":{"field":"s","type":"nominal","scale":{"domain":["circle","square"],"range":["circle","square"]},"legend":null}}},
{"data":{"name":"ann"},"transform":[{"filter":"datum.p == 'c'"}],"mark":{"type":"text","fontSize":14,"align":"right","baseline":"middle","color":"#000"},
 "encoding":{"x":{"field":"x","type":"quantitative","scale":{"domain":[0.041,0.824],"nice":false,"zero":false},"axis":{"values":[0.2,0.4,0.6,0.8],"format":".1f"},"title":"Preference for feeding sites"},
  "y":{"field":"y","type":"quantitative","scale":{"domain":[-0.018,1.0],"nice":false,"zero":false},"axis":{"values":[0,0.25,0.5,0.75,1],"format":".2f","titlePadding":6},"title":"Space−use overlap"},
  "text":{"field":"m"}}},
{"data":{"name":"ann"},"transform":[{"filter":"datum.p == 'c'"}],"mark":{"type":"text","fontSize":14,"fontStyle":"italic","align":"left","baseline":"middle","color":"#000","text":"R"},
 "encoding":{"x":{"field":"x","type":"quantitative","scale":{"domain":[0.041,0.824],"nice":false,"zero":false},"axis":{"values":[0.2,0.4,0.6,0.8],"format":".1f"},"title":"Preference for feeding sites"},
  "y":{"field":"y","type":"quantitative","scale":{"domain":[-0.018,1.0],"nice":false,"zero":false},"axis":{"values":[0,0.25,0.5,0.75,1],"format":".2f","titlePadding":6},"title":"Space−use overlap"}}},
{"data":{"name":"ann"},"transform":[{"filter":"datum.p == 'c'"}],"mark":{"type":"text","fontSize":14,"align":"left","baseline":"middle","dx":9,"color":"#000"},
 "encoding":{"x":{"field":"x","type":"quantitative","scale":{"domain":[0.041,0.824],"nice":false,"zero":false},"axis":{"values":[0.2,0.4,0.6,0.8],"format":".1f"},"title":"Preference for feeding sites"},
  "y":{"field":"y","type":"quantitative","scale":{"domain":[-0.018,1.0],"nice":false,"zero":false},"axis":{"values":[0,0.25,0.5,0.75,1],"format":".2f","titlePadding":6},"title":"Space−use overlap"},
  "text":{"field":"v"}}}
]
}
],
"resolve":{"scale":{"x":"independent","y":"independent","color":"independent","fill":"independent","stroke":"independent","shape":"independent","strokeWidth":"independent"},"legend":{"fill":"independent"}}
}
